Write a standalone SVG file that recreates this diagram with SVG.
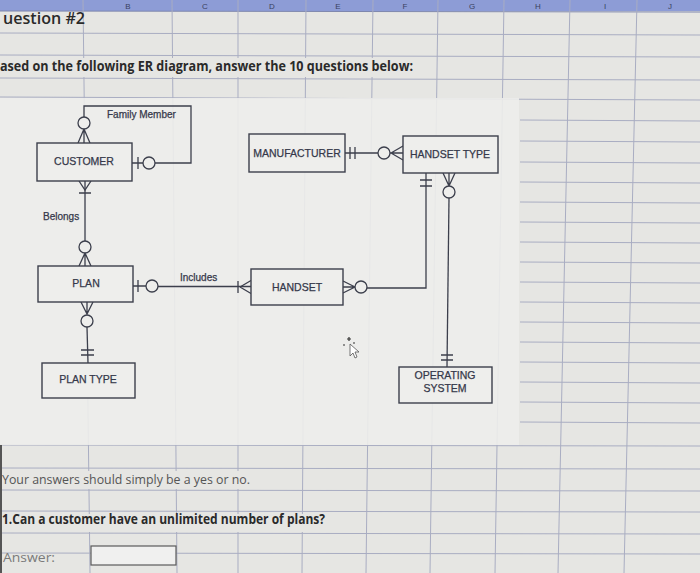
<svg xmlns="http://www.w3.org/2000/svg" width="700" height="573" viewBox="0 0 700 573">
<style>
.grid{stroke:#a9adc2;stroke-width:1;fill:none}
.ent{fill:#eeeeec;stroke:#3c3f4c;stroke-width:1.4}
.ln{stroke:#3c3f4c;stroke-width:1.3;fill:none}
.circ{fill:#eeeeec;stroke:#3c3f4c;stroke-width:1.3}
.lbl{font-family:"Liberation Sans",Arial,sans-serif;font-size:10.5px;fill:#35384a;stroke:#35384a;stroke-width:0.25;text-anchor:middle}
.rl{font-family:"Liberation Sans",Arial,sans-serif;font-size:10px;fill:#35384a;stroke:#35384a;stroke-width:0.25}
.sheet{font-family:"Open Sans","Liberation Sans",sans-serif}
.col{font-family:"Liberation Sans",sans-serif;font-size:8px;fill:#3a4160;text-anchor:middle}
.bg{fill:#e6e6e3}
</style>
<rect x="0" y="0" width="700" height="573" fill="#e6e6e3"/>
<!-- header -->
<rect x="0" y="0" width="700" height="11" fill="#8d9cd6"/>
<!-- grid -->
<g class="grid">
<line x1="0" y1="11" x2="700" y2="12" stroke="#7d86ad"/>
<line x1="0" y1="33" x2="700" y2="35"/>
<line x1="0" y1="55" x2="700" y2="57"/>
<line x1="0" y1="78" x2="700" y2="80"/>
<line x1="0" y1="97" x2="700" y2="100"/>
<line x1="520" y1="120" x2="700" y2="121"/>
<line x1="520" y1="141" x2="700" y2="142"/>
<line x1="520" y1="162" x2="700" y2="163"/>
<line x1="520" y1="182" x2="700" y2="183"/>
<line x1="520" y1="202" x2="700" y2="203"/>
<line x1="520" y1="222" x2="700" y2="223"/>
<line x1="520" y1="242" x2="700" y2="243"/>
<line x1="520" y1="262" x2="700" y2="263"/>
<line x1="520" y1="282" x2="700" y2="283"/>
<line x1="520" y1="302" x2="700" y2="303"/>
<line x1="520" y1="322" x2="700" y2="323"/>
<line x1="520" y1="342" x2="700" y2="343"/>
<line x1="520" y1="362" x2="700" y2="363"/>
<line x1="520" y1="382" x2="700" y2="383"/>
<line x1="520" y1="402" x2="700" y2="403"/>
<line x1="520" y1="422" x2="700" y2="423"/>
<line x1="0" y1="445" x2="700" y2="446"/>
<line x1="0" y1="468" x2="700" y2="469"/>
<line x1="0" y1="490" x2="700" y2="491"/>
<line x1="0" y1="511" x2="700" y2="512"/>
<line x1="0" y1="533" x2="700" y2="534"/>
<line x1="0" y1="553" x2="700" y2="554"/>
<line x1="83" y1="0" x2="90" y2="573"/>
<line x1="172" y1="0" x2="177" y2="573"/>
<line x1="238" y1="0" x2="238" y2="573"/>
<line x1="306" y1="0" x2="302" y2="573"/>
<line x1="373" y1="0" x2="366" y2="573"/>
<line x1="438" y1="0" x2="430" y2="573"/>
<line x1="504" y1="0" x2="495" y2="573"/>
<line x1="570" y1="0" x2="558" y2="573"/>
<line x1="637" y1="0" x2="624" y2="573"/>
<line x1="1" y1="445" x2="1" y2="573" stroke="#555" stroke-width="2"/>
</g>
<g class="col">
<text x="128" y="9">B</text><text x="205" y="9">C</text><text x="272" y="9">D</text><text x="338" y="9">E</text><text x="405" y="9">F</text><text x="472" y="9">G</text><text x="538" y="9">H</text><text x="605" y="9">I</text><text x="670" y="9">J</text>
</g>
<!-- diagram background -->
<rect x="0" y="98" width="519" height="347" fill="#ededeb" opacity="0.9"/>
<!-- masks where overflow text hides gridlines -->
<rect class="bg" x="0" y="58" width="418" height="19"/>
<rect class="bg" x="3" y="471" width="250" height="18"/>
<rect class="bg" x="3" y="514" width="326" height="18"/>
<!-- sheet texts -->
<text class="sheet" x="3" y="24" font-size="17" font-weight="600" fill="#2a2a2a" textLength="82" lengthAdjust="spacingAndGlyphs">uestion #2</text>
<text class="sheet" x="0" y="71" font-size="14" font-weight="bold" fill="#2a2a2a" textLength="413" lengthAdjust="spacingAndGlyphs">ased on the following ER diagram, answer the 10 questions below:</text>
<text class="sheet" x="2" y="484" font-size="13.5" fill="#555" textLength="248" lengthAdjust="spacingAndGlyphs">Your answers should simply be a yes or no.</text>
<text class="sheet" x="2" y="524" font-size="13.5" font-weight="bold" fill="#2a2a2a" textLength="323" lengthAdjust="spacingAndGlyphs">1.Can a customer have an unlimited number of plans?</text>
<text class="sheet" x="3" y="562" font-size="13" fill="#7a7a7a" textLength="52" lengthAdjust="spacingAndGlyphs">Answer:</text>
<rect x="91" y="546" width="85" height="19" fill="#f0f0ef" stroke="#5a5a5a" stroke-width="1.2"/>
<!-- connectors -->
<g id="connectors">
  <g id="c-family">
    <path class="ln" d="M84 117 V106 H191 V163 H155"/>
    <circle class="circ" cx="84" cy="123" r="6"/>
    <path class="ln" d="M84 129 L78 143 M84 129 L90 143 M84 129 V143"/>
    <path class="ln" d="M132 163 H143 M138 157 V169"/>
    <circle class="circ" cx="149" cy="163" r="6"/>
    <text class="rl" x="107" y="118" font-size="10.5">Family Member</text>
  </g>
  <g id="c-belongs">
    <path class="ln" d="M85 181 V241"/>
    <path class="ln" d="M79 181 L85 190 L91 181 M79 193 H91"/>
    <circle class="circ" cx="85" cy="247" r="6"/>
    <path class="ln" d="M85 253 L79 266 M85 253 L91 266 M85 253 V266"/>
    <text class="rl" x="43" y="220">Belongs</text>
  </g>
  <g id="c-includes">
    <path class="ln" d="M133 286 H146 M158 286.5 H251 M138 280 V292"/>
    <circle class="circ" cx="152" cy="286" r="6"/>
    <path class="ln" d="M238 281 V293 M240 287 L251 280.5 M240 287 L251 293.5"/>
    <text class="rl" x="180" y="281">Includes</text>
  </g>
  <g id="c-handset-type">
    <path class="ln" d="M343 281 L355 287 L343 293 M343 287 H355"/>
    <circle class="circ" cx="361" cy="287" r="6"/>
    <path class="ln" d="M367 288 H426 V173"/>
    <path class="ln" d="M420 180 H432 M420 186 H432"/>
  </g>
  <g id="c-manufacturer">
    <path class="ln" d="M345 153 H378 M350 147 V159 M355 147 V159"/>
    <circle class="circ" cx="384" cy="153" r="6"/>
    <path class="ln" d="M390 153 H403 M391 153 L403 146 M391 153 L403 160"/>
  </g>
  <g id="c-os">
    <path class="ln" d="M443 173 L449 186 L455 173 M449 173 V186"/>
    <circle class="circ" cx="449" cy="192" r="6"/>
    <path class="ln" d="M449 198 L447 367"/>
    <path class="ln" d="M441 355 H453 M441 360 H453"/>
  </g>
  <g id="c-plantype">
    <path class="ln" d="M81 302 L87 314 L93 302 M87 302 V314"/>
    <circle class="circ" cx="87" cy="321" r="6"/>
    <path class="ln" d="M87 327 L88 363"/>
    <path class="ln" d="M81 350 H94 M81 355 H94"/>
  </g>
</g>
<!-- entities -->
<g id="customer"><rect class="ent" x="37" y="143" width="95" height="38"/><text class="lbl" x="84" y="165" font-size="11">CUSTOMER</text></g>
<g id="plan"><rect class="ent" x="38" y="266" width="95" height="36"/><text class="lbl" x="86" y="287">PLAN</text></g>
<g id="plan-type"><rect class="ent" x="42" y="363" width="93" height="35"/><text class="lbl" x="88" y="383">PLAN TYPE</text></g>
<g id="manufacturer"><rect class="ent" x="249" y="134" width="96" height="38"/><text class="lbl" x="297" y="157">MANUFACTURER</text></g>
<g id="handset-type"><rect class="ent" x="403" y="136" width="95" height="37"/><text class="lbl" x="450" y="158">HANDSET TYPE</text></g>
<g id="handset"><rect class="ent" x="251" y="269" width="92" height="36"/><text class="lbl" x="297" y="291" font-size="10">HANDSET</text></g>
<g id="operating-system"><rect class="ent" x="399" y="367" width="93" height="36"/><text class="lbl" x="445" y="379" font-size="10">OPERATING</text><text class="lbl" x="445" y="392" font-size="10">SYSTEM</text></g>
<g id="cursor">
  <path d="M349 341 l0 -4 m-2 2 h4 M345 345 h-2 M353 343 h2" stroke="#333" stroke-width="1.2" fill="none"/>
  <path d="M350 344 L350 356 L353 353 L355 358 L357 357 L355 352 L359 352 Z" fill="#fff" stroke="#555" stroke-width="0.8"/>
</g>
</svg>
